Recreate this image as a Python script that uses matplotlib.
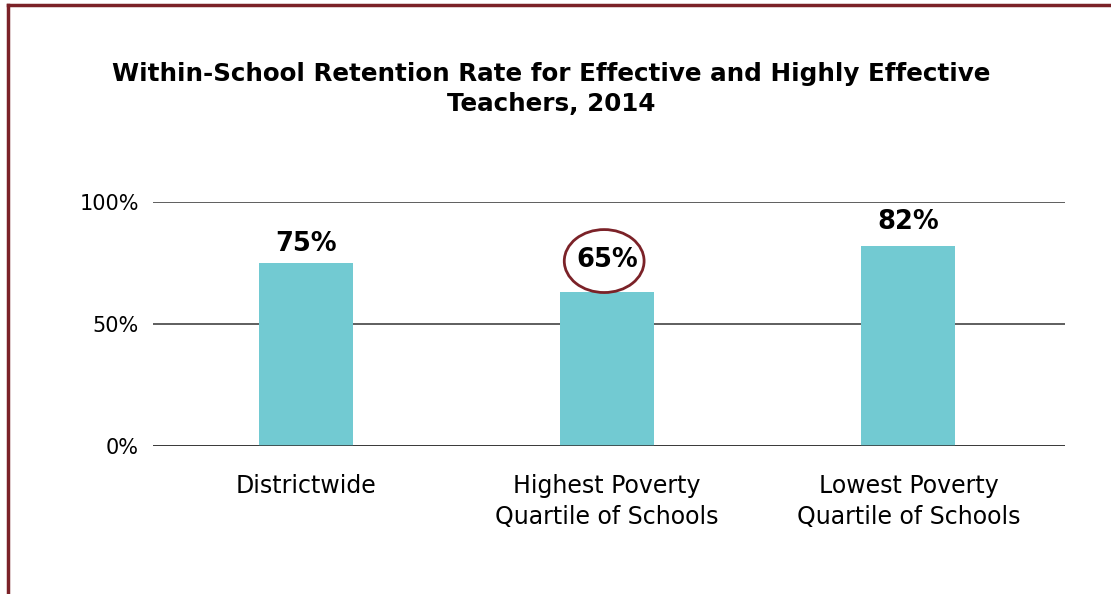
import matplotlib
matplotlib.use('Agg')
import matplotlib.pyplot as plt
from matplotlib.patches import Ellipse
from matplotlib.lines import Line2D

plt.rcParams['font.family'] = ['DejaVu Sans']

# Data
categories = ['Districtwide', 'Highest Poverty\nQuartile of Schools', 'Lowest Poverty\nQuartile of Schools']
values = [75, 63, 82]
value_labels = ['75%', '65%', '82%']
yticks = [0, 50, 100]
ytick_labels = ['0%', '50%', '100%']

# label gap above bar (points)
label_gaps = [14, 23, 17]

bar_color = '#72CAD2'
frame_color = '#7B2228'

fig = plt.figure(figsize=(11.11, 5.94), dpi=100)
ax = fig.add_axes([153/1111, 1 - 446/594, (1065-153)/1111, (446-202)/594])

x = list(range(len(categories)))
bars = ax.bar(x, values, width=0.312, color=bar_color, zorder=1)

ax.set_xlim(-0.508, 2.52)
ax.set_ylim(0, 100)
ax.set_yticks(yticks)
ax.set_yticklabels(ytick_labels, fontsize=15)
ax.set_xticks(x)
ax.set_xticklabels(categories, fontsize=17, linespacing=1.4)
ax.tick_params(axis='y', length=0, pad=10)
ax.tick_params(axis='x', length=0, pad=20)
for s in ax.spines.values():
    s.set_visible(False)
for t in yticks:
    ax.axhline(t, color='#333333', lw=1.1, zorder=0.5)
ax.axhline(0, color='#333333', lw=1.1, zorder=2)

for bar, lab, gap in zip(bars, value_labels, label_gaps):
    h = bar.get_height()
    ax.annotate(lab, xy=(bar.get_x() + bar.get_width()/2, h),
                xytext=(0, gap), textcoords='offset points', ha='center', va='center',
                fontsize=18.5, fontweight='bold', clip_on=False)

# circle around middle label
ax.add_patch(Ellipse((0.99, 75.8), 0.265, 25.8, fill=False, edgecolor=frame_color,
                     lw=2, clip_on=False))

fig.text(0.496, 1 - 89/594, 'Within-School Retention Rate for Effective and Highly Effective\nTeachers, 2014',
         ha='center', va='center', fontsize=17.7, fontweight='bold', linespacing=1.3)

# frame lines (top and left)
fig.add_artist(Line2D([8/1111, 1], [1 - 5/594, 1 - 5/594], color=frame_color, lw=2.5,
                      transform=fig.transFigure))
fig.add_artist(Line2D([8/1111, 8/1111], [0, 1 - 5/594], color=frame_color, lw=2.5,
                      transform=fig.transFigure))

fig.savefig('out.png', dpi=100)
